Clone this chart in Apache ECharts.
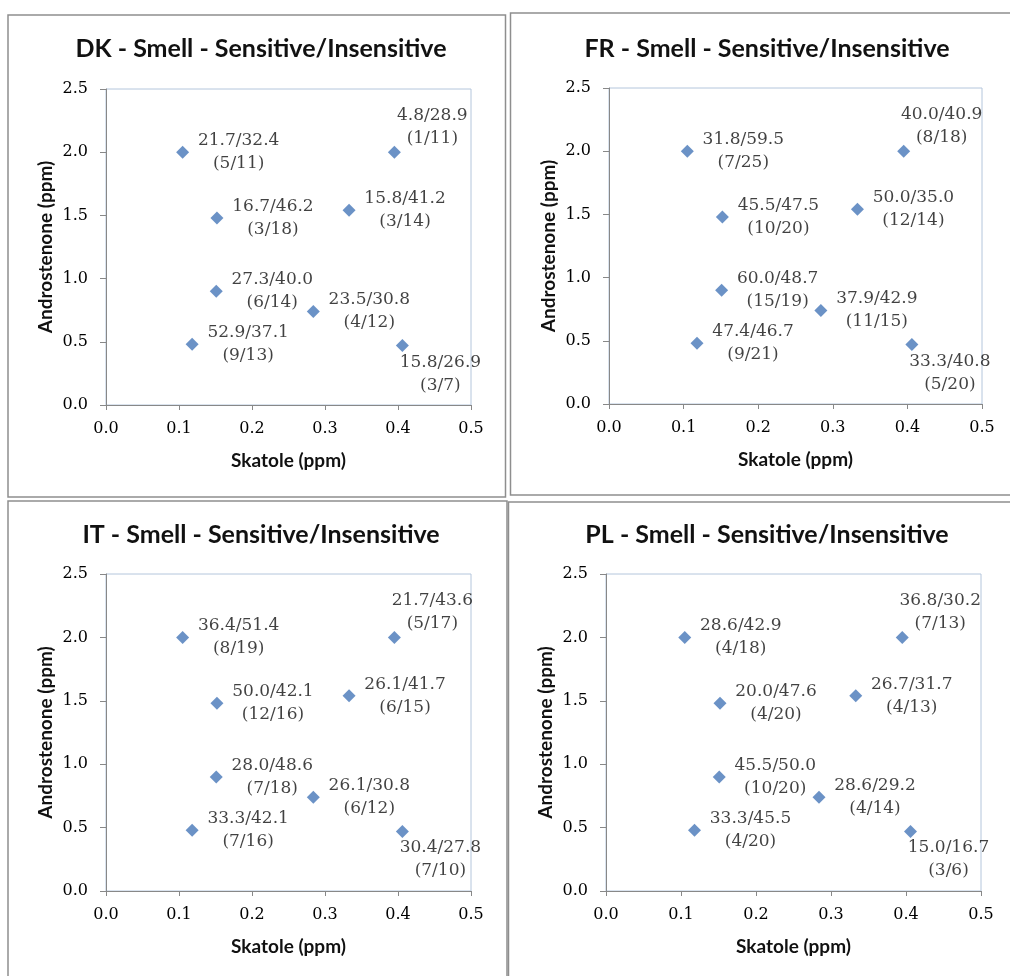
<!DOCTYPE html>
<html>
<head>
<meta charset="utf-8">
<script src="https://cdn.jsdelivr.net/npm/echarts@6/dist/echarts.min.js"></script>
<style>
  body { margin: 0; background: #fff; }
  #main { width: 1010px; height: 976px; }
</style>
</head>
<body>
<div id="main"></div>
<script>
// positions of the 8 skatole/androstenone groups (same in every country)
const skatole = [0.105, 0.395, 0.152, 0.333, 0.151, 0.284, 0.118, 0.406];
const androstenone = [2.0, 2.0, 1.48, 1.54, 0.90, 0.74, 0.48, 0.47];

const countries = ['DK', 'FR', 'IT', 'PL'];

const dkPct = ['21.7/32.4', '4.8/28.9', '16.7/46.2', '15.8/41.2', '27.3/40.0', '23.5/30.8', '52.9/37.1', '15.8/26.9'];
const dkCount = ['(5/11)', '(1/11)', '(3/18)', '(3/14)', '(6/14)', '(4/12)', '(9/13)', '(3/7)'];
const frPct = ['31.8/59.5', '40.0/40.9', '45.5/47.5', '50.0/35.0', '60.0/48.7', '37.9/42.9', '47.4/46.7', '33.3/40.8'];
const frCount = ['(7/25)', '(8/18)', '(10/20)', '(12/14)', '(15/19)', '(11/15)', '(9/21)', '(5/20)'];
const itPct = ['36.4/51.4', '21.7/43.6', '50.0/42.1', '26.1/41.7', '28.0/48.6', '26.1/30.8', '33.3/42.1', '30.4/27.8'];
const itCount = ['(8/19)', '(5/17)', '(12/16)', '(6/15)', '(7/18)', '(6/12)', '(7/16)', '(7/10)'];
const plPct = ['28.6/42.9', '36.8/30.2', '20.0/47.6', '26.7/31.7', '45.5/50.0', '28.6/29.2', '33.3/45.5', '15.0/16.7'];
const plCount = ['(4/18)', '(7/13)', '(4/20)', '(4/13)', '(10/20)', '(4/14)', '(4/20)', '(3/6)'];

const xTicks = [0, 0.1, 0.2, 0.3, 0.4, 0.5];
const yTicks = [0, 0.5, 1.0, 1.5, 2.0, 2.5];

const pcts = [dkPct, frPct, itPct, plPct];
const counts = [dkCount, frCount, itCount, plCount];

// layout of the four panels
const grids = [
  {left: 106, top: 89, width: 365, height: 316},
  {left: 609, top: 88, width: 373, height: 316},
  {left: 106, top: 574, width: 365, height: 317},
  {left: 606, top: 574, width: 375, height: 317}
];
const frames = [
  {x: 8, y: 15, width: 497.5, height: 482},
  {x: 510.5, y: 13, width: 520, height: 482},
  {x: 8, y: 501, width: 499, height: 500},
  {x: 508.5, y: 502, width: 520, height: 500}
];
const titleCenters = [[256, 47], [762, 47], [256, 533], [762, 533]];

function labelOffset(i) {
  if (i === 1) return [38, -25];
  if (i === 7) return [38, 28];
  return [56, 0];
}

const tickFont = {fontFamily: 'DejaVu Serif', fontSize: 16, color: '#000'};
const nameFont = {fontFamily: 'Lato', fontWeight: 'bold', fontSize: 19, color: '#111'};

const option = {
  animation: false,
  backgroundColor: '#fff',
  graphic: frames.map(f => ({
    type: 'rect',
    shape: f,
    style: {fill: 'none', stroke: '#8e8e8e', lineWidth: 1.5},
    z: -1
  })),
  title: countries.map((c, k) => ({
    text: c + ' - Smell - Sensitive/Insensitive',
    left: titleCenters[k][0],
    top: titleCenters[k][1] - 16,
    textAlign: 'center',
    textStyle: {fontFamily: 'Lato', fontWeight: 'bold', fontSize: 25, color: '#111'}
  })),
  grid: grids.map(g => Object.assign({show: true, borderColor: '#b4c6dc', borderWidth: 1}, g)),
  xAxis: grids.map((g, k) => ({
    gridIndex: k,
    type: 'value',
    min: xTicks[0],
    max: xTicks[xTicks.length - 1],
    interval: 0.1,
    name: 'Skatole (ppm)',
    nameLocation: 'middle',
    nameGap: 46,
    nameTextStyle: nameFont,
    axisLine: {show: true, lineStyle: {color: '#888', width: 1}},
    axisTick: {show: true, length: 5, lineStyle: {color: '#888'}},
    splitLine: {show: false},
    axisLabel: Object.assign({margin: 16, formatter: v => v.toFixed(1)}, tickFont)
  })),
  yAxis: grids.map((g, k) => ({
    gridIndex: k,
    type: 'value',
    min: yTicks[0],
    max: yTicks[yTicks.length - 1],
    interval: 0.5,
    name: 'Androstenone (ppm)',
    nameLocation: 'middle',
    nameGap: 51,
    nameTextStyle: nameFont,
    axisLine: {show: true, lineStyle: {color: '#888', width: 1}},
    axisTick: {show: true, length: 6, lineStyle: {color: '#888'}},
    splitLine: {show: false},
    axisLabel: Object.assign({margin: 18, formatter: v => v.toFixed(1)}, tickFont)
  })),
  series: countries.map((c, k) => ({
    name: c,
    type: 'scatter',
    xAxisIndex: k,
    yAxisIndex: k,
    symbol: 'diamond',
    symbolSize: 13,
    itemStyle: {color: '#4677b8'},
    label: {
      show: true,
      position: 'inside',
      align: 'center',
      verticalAlign: 'middle',
      fontFamily: 'DejaVu Serif',
      fontSize: 17,
      lineHeight: 23,
      color: '#111'
    },
    data: skatole.map((x, i) => ({
      value: [x, androstenone[i]],
      label: {
        offset: labelOffset(i),
        formatter: pcts[k][i] + '\n' + counts[k][i]
      }
    }))
  }))
};

const chart = echarts.init(document.getElementById('main'), null, {renderer: 'canvas'});
chart.setOption(option);
</script>
</body>
</html>
